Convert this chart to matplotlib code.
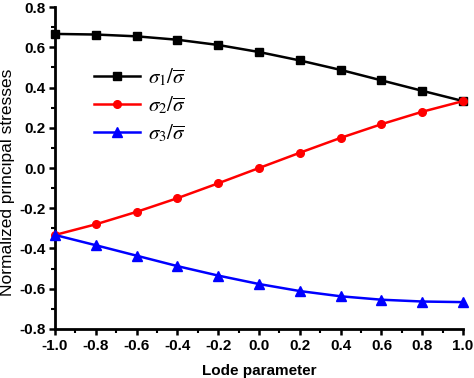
import matplotlib
matplotlib.use("Agg")
import matplotlib.pyplot as plt
from matplotlib.ticker import MultipleLocator

plt.rcParams['font.family'] = ['Liberation Sans', 'DejaVu Sans']
plt.rcParams['mathtext.fontset'] = 'stix'

lode = [-1.0, -0.8, -0.6, -0.4, -0.2, 0.0, 0.2, 0.4, 0.6, 0.8, 1.0]
sigma1 = [0.667, 0.664, 0.655, 0.638, 0.612, 0.577, 0.535, 0.488, 0.436, 0.384, 0.333]
sigma2 = [-0.333, -0.280, -0.218, -0.150, -0.076, 0.0, 0.076, 0.150, 0.218, 0.280, 0.333]
sigma3 = [-0.333, -0.384, -0.436, -0.488, -0.535, -0.577, -0.612, -0.638, -0.655, -0.664, -0.667]
labels = [r'$\sigma_1/\overline{\sigma}$', r'$\sigma_2/\overline{\sigma}$', r'$\sigma_3/\overline{\sigma}$']

fig = plt.figure(figsize=(4.74, 3.78), dpi=100)
ax = fig.add_axes([0.116, 0.130, 0.861, 0.851])

ax.plot(lode, sigma1, color='black', marker='s', ms=5.5, lw=1.8, label=labels[0], clip_on=False, zorder=3)
ax.plot(lode, sigma2, color='red', marker='o', ms=5.5, lw=1.8, label=labels[1], clip_on=False, zorder=3)
ax.plot(lode, sigma3, color='blue', marker='^', ms=6.5, lw=1.8, label=labels[2], clip_on=False, zorder=3)

ax.set_xlim(-1.0, 1.0)
ax.set_ylim(-0.8, 0.8)
ax.xaxis.set_major_locator(MultipleLocator(0.2))
ax.xaxis.set_minor_locator(MultipleLocator(0.1))
ax.yaxis.set_major_locator(MultipleLocator(0.2))
ax.yaxis.set_minor_locator(MultipleLocator(0.1))
ax.xaxis.set_major_formatter(plt.FuncFormatter(lambda v, p: f"{v:.1f}"))
ax.yaxis.set_major_formatter(plt.FuncFormatter(lambda v, p: f"{v:.1f}"))

for s in ['top', 'right']:
    ax.spines[s].set_visible(False)
for s in ['left', 'bottom']:
    ax.spines[s].set_linewidth(2)
ax.tick_params(which='major', direction='out', length=4, width=1.8, labelsize=11, pad=3)
ax.tick_params(which='minor', direction='out', length=3, width=1.5)
for lab in ax.get_xticklabels() + ax.get_yticklabels():
    lab.set_fontweight('bold')

ax.set_xlabel('Lode parameter', fontsize=11, fontweight='bold', labelpad=8)
ax.set_ylabel('Normalized principal stresses', fontsize=12.5, labelpad=6)
ax.yaxis.set_label_coords(-0.098, 0.455)

ax.legend(loc='upper left', bbox_to_anchor=(0.05, 0.875), frameon=False, fontsize=15,
          handlelength=2.2, labelspacing=0.3, handletextpad=0.4)

fig.savefig('out.png', dpi=100)
